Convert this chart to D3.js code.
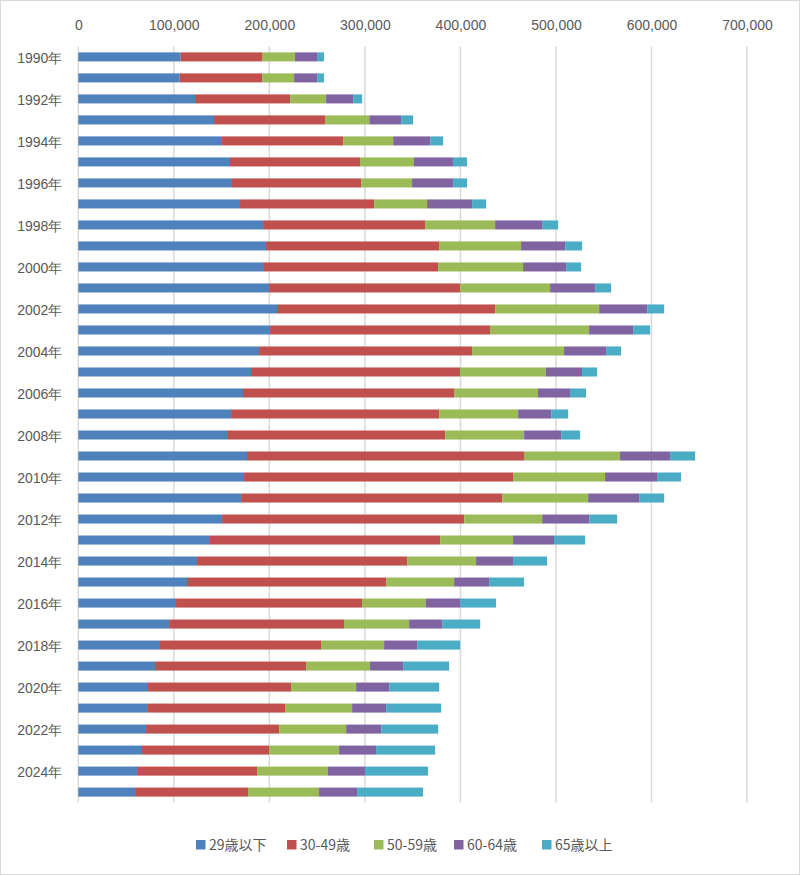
<!DOCTYPE html>
<html>
<head>
<meta charset="utf-8">
<script src="https://cdn.jsdelivr.net/npm/d3@7"></script>
<style>
  html, body { margin: 0; padding: 0; background: #fff; }
  svg { display: block; font-family: "Noto Sans CJK JP", "Noto Sans", sans-serif; }
</style>
</head>
<body>
<svg id="vis" width="800" height="875"></svg>
<script>
// years and age groups
const years = d3.range(1990, 2026).map(y => y + '年');
const groups = ['29歳以下', '30-49歳', '50-59歳', '60-64歳', '65歳以上'];
const colors = ['#4f81bd', '#c0504d', '#9bbb59', '#8064a2', '#4bacc6'];
const xTicks = [0, 100000, 200000, 300000, 400000, 500000, 600000, 700000];

// values per age group, 1990 .. 2025
const under29 = [107200, 106200, 122200, 142100, 150500, 158800, 160900, 169300, 193400, 196500,
  193400, 199700, 208000, 200700, 189200, 180800, 172400, 159900, 155700, 176600,
  173500, 170400, 150500, 137900, 124300, 113800, 102300, 95000, 85500, 80300,
  73000, 73000, 70900, 66700, 62500, 59400];
const age30to49 = [85100, 86200, 99500, 116200, 126700, 136100, 135100, 140300, 169600, 181100,
  183200, 200000, 228300, 230300, 223000, 218800, 220900, 217800, 228300, 290000,
  281600, 273300, 253400, 240800, 219900, 208400, 194700, 183200, 168600, 158100,
  149700, 143400, 139300, 133000, 124600, 118300];
const age50to59 = [34600, 33500, 37700, 46400, 52400, 56500, 53400, 55500, 73300, 85900,
  89000, 94200, 108900, 103700, 96300, 90000, 87900, 82700, 82700, 100500,
  96300, 90000, 81700, 76400, 72200, 71200, 67000, 68100, 66000, 67000,
  68100, 70200, 70200, 73300, 74300, 74300];
const age60to64 = [23000, 24100, 28300, 33200, 38700, 40800, 42900, 47100, 49200, 46100,
  45000, 47100, 50300, 46100, 44000, 37700, 33500, 34600, 38700, 52400,
  54400, 53400, 49200, 42900, 38700, 36600, 35600, 34600, 34600, 34600,
  34600, 35600, 36600, 38700, 38700, 39800];
const over65 = [7300, 7300, 9400, 12600, 13600, 14700, 14700, 14700, 16800, 17800,
  15700, 16800, 17800, 17800, 15700, 15700, 16800, 17800, 19900, 26200,
  25100, 26200, 29300, 32500, 35600, 36600, 37700, 39800, 45000, 48200,
  52400, 57600, 59700, 61800, 66000, 69100];

const series = [under29, age30to49, age50to59, age60to64, over65];

const svg = d3.select('#vis');
const width = 800, height = 875;
const margin = { top: 46.5, right: 53, bottom: 72.5, left: 78.3 };

// outer frame
svg.append('rect')
  .attr('x', 0.5).attr('y', 0.5)
  .attr('width', width - 1).attr('height', height - 1)
  .attr('fill', '#fff')
  .attr('stroke', '#d9d9d9');

const x = d3.scaleLinear()
  .domain([0, 700000])
  .range([margin.left, width - margin.right]);

const y = d3.scaleBand()
  .domain(years)
  .range([margin.top, height - margin.bottom])
  .paddingInner(0.57)
  .paddingOuter(0.28);

// gridlines
svg.append('g')
  .selectAll('line')
  .data(xTicks)
  .join('line')
  .attr('x1', d => x(d)).attr('x2', d => x(d))
  .attr('y1', margin.top).attr('y2', height - margin.bottom)
  .attr('stroke', '#d9d9d9')
  .attr('stroke-width', 1.5);

// top tick labels
const xAxis = svg.append('g')
  .attr('transform', `translate(0,${margin.top})`)
  .call(d3.axisTop(x).tickValues(xTicks).tickFormat(d3.format(',')).tickSize(0).tickPadding(17));
xAxis.select('.domain').remove();
xAxis.selectAll('text')
  .attr('fill', '#595959')
  .style('font-size', '14px');

// stacked bars
const rows = years.map((yr, i) => {
  const r = { year: yr };
  groups.forEach((g, j) => { r[g] = series[j][i]; });
  return r;
});
const stacked = d3.stack().keys(groups)(rows);

svg.append('g')
  .selectAll('g')
  .data(stacked)
  .join('g')
  .attr('fill', (d, i) => colors[i])
  .selectAll('rect')
  .data(d => d)
  .join('rect')
  .attr('x', d => x(d[0]))
  .attr('y', d => y(d.data.year))
  .attr('width', d => x(d[1]) - x(d[0]))
  .attr('height', y.bandwidth());

// left axis labels (every other year)
const yAxis = svg.append('g')
  .attr('transform', `translate(${margin.left},0)`)
  .call(d3.axisLeft(y)
    .tickValues(years.filter((d, i) => i % 2 === 0))
    .tickSize(0).tickPadding(16));
yAxis.select('.domain').remove();
yAxis.selectAll('text')
  .attr('fill', '#595959')
  .attr('dy', '0.45em')
  .style('font-size', '14px');

// legend
const legendX = [196, 287, 374, 454, 542];
const legend = svg.append('g')
  .selectAll('g')
  .data(groups)
  .join('g')
  .attr('transform', (d, i) => `translate(${legendX[i]},845)`);
legend.append('rect')
  .attr('x', 0).attr('y', -5)
  .attr('width', 9.5).attr('height', 9.5)
  .attr('fill', (d, i) => colors[i]);
legend.append('text')
  .attr('x', 13).attr('y', 0)
  .attr('dy', '0.35em')
  .attr('fill', '#595959')
  .style('font-size', '14px')
  .text(d => d);
</script>
</body>
</html>
